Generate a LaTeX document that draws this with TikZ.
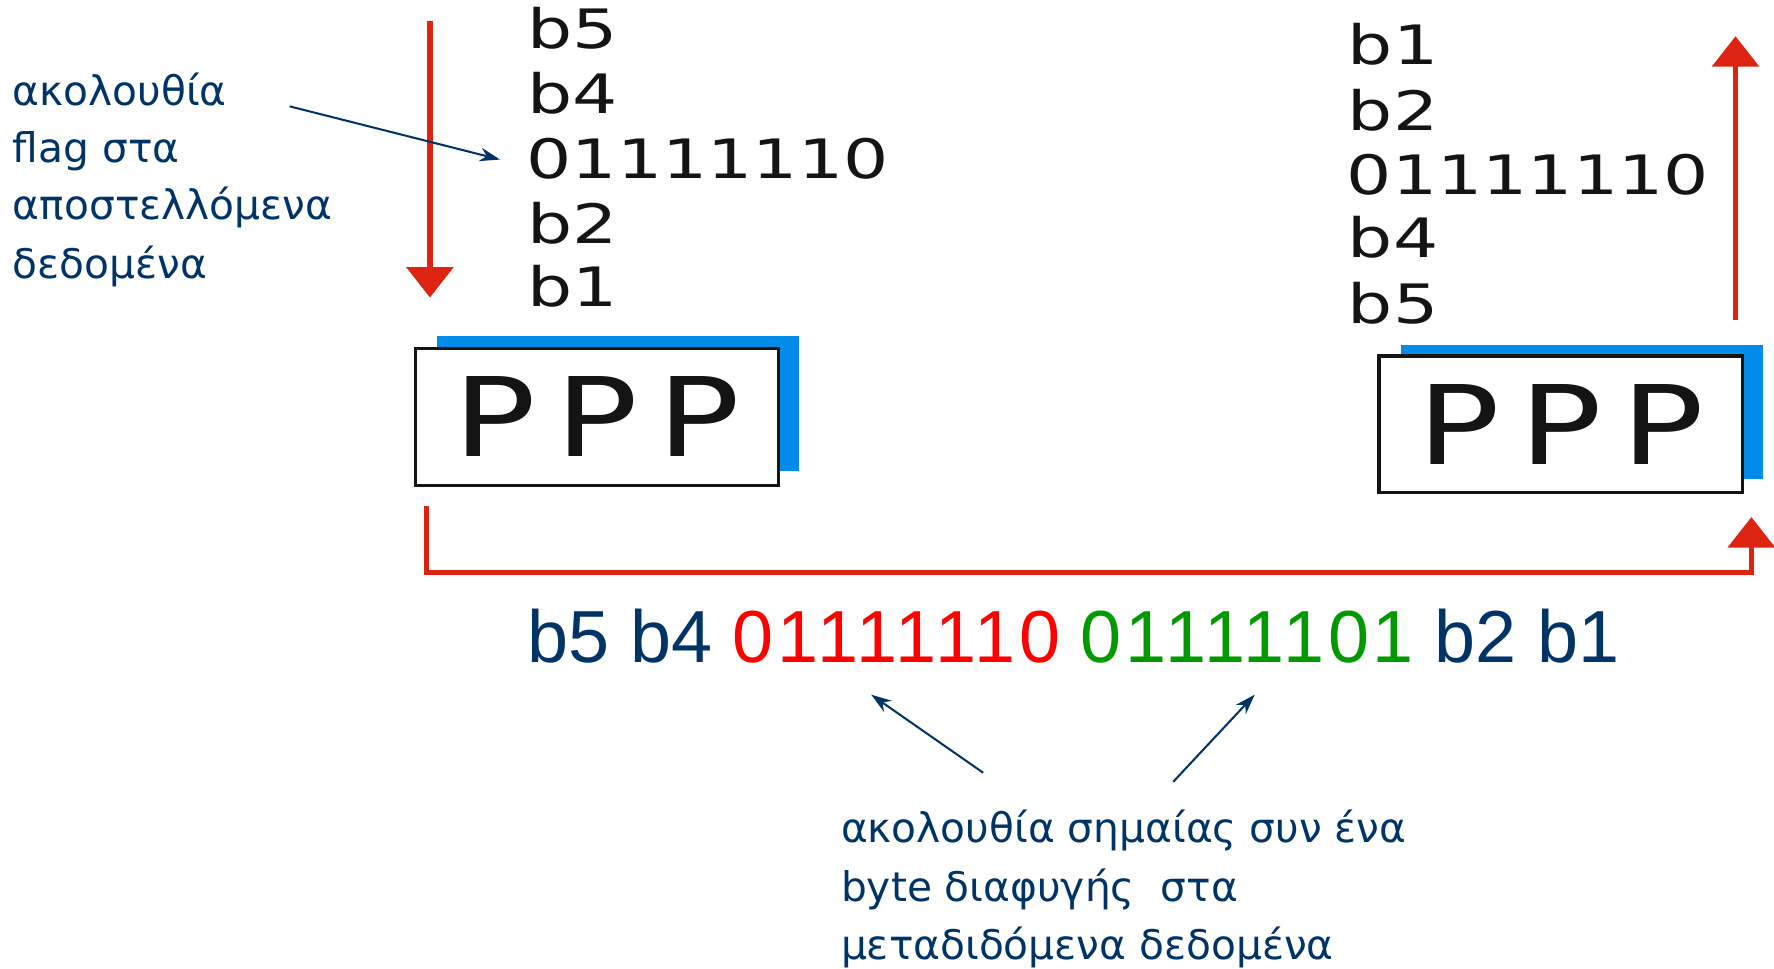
\documentclass[tikz,border=0pt]{standalone}
\usepackage{fontspec}
\setmainfont{DejaVu Sans}
\newfontfamily\grk{DejaVu Sans}
\newfontfamily\seqf{Liberation Sans}
\newfontfamily\seqd[LetterSpace=5.2]{Liberation Sans}
\usetikzlibrary{arrows.meta}
\definecolor{navy}{RGB}{0,51,102}
\definecolor{arrred}{RGB}{221,36,18}
\definecolor{shadowblue}{RGB}{0,140,232}
\definecolor{seqred}{RGB}{255,0,0}
\definecolor{seqgreen}{RGB}{0,153,0}
\begin{document}
\begin{tikzpicture}[x=0.5pt,y=-0.5pt,
  greek/.style={font=\grk\fontsize{18}{20}\selectfont, text=navy, anchor=base west, inner sep=0pt},
  stack/.style={font=\fontsize{24}{26}\selectfont, text=black!92, anchor=base west, inner sep=0pt},
  shadowbox/.style={fill=shadowblue, draw=none, minimum width=160pt, minimum height=59.5pt, inner sep=0pt},
  pppbox/.style={fill=white, draw=black!92, line width=1.5pt, minimum width=160.5pt, minimum height=60.5pt, inner sep=0pt,
    font=\fontsize{48.5}{50}\selectfont, text=black!92},
  redarrow/.style={draw=arrred, line width=2.5pt, line join=miter, -{Triangle[length=13.5pt,width=20.5pt]}},
  thinarrow/.style={draw=navy, line width=0.9pt, -{Stealth[length=9pt,width=6pt]}}
]
\useasboundingbox (0,0) rectangle (1568,856);

% left annotation
\node[greek] (l1) at (11,93) {ακολουθία};
\node[greek] (l2) at (11,144) {flag στα};
\node[greek] (l3) at (11,194) {αποστελλόμενα};
\node[greek] (l4) at (11,246) {δεδομένα};

% left stack
\node[stack] (sl5) at (466,43) {\scalebox{1.31}[1]{b5}};
\node[stack] (sl4) at (466,100) {\scalebox{1.31}[1]{b4}};
\node[stack] (slf) at (465,158) {\scalebox{1.31}[1]{01111110}};
\node[stack] (sl2) at (466,215) {\scalebox{1.31}[1]{b2}};
\node[stack] (sl1) at (466,271) {\scalebox{1.31}[1]{b1}};

% right stack
\node[stack] (sr1) at (1191,57) {\scalebox{1.31}[1]{b1}};
\node[stack] (sr2) at (1191,115) {\scalebox{1.31}[1]{b2}};
\node[stack] (srf) at (1190,172) {\scalebox{1.31}[1]{01111110}};
\node[stack] (sr4) at (1191,228) {\scalebox{1.31}[1]{b4}};
\node[stack] (sr5) at (1191,286) {\scalebox{1.31}[1]{b5}};

% PPP boxes
\node[shadowbox] (sh1) at (546.5,356.5) {};
\node[pppbox] (ppp1) at (527.5,368.5) {\scalebox{1.25}[1]{P\kern6.8ptP\kern6.8ptP}};
\node[shadowbox] (sh2) at (1398,364) {};
\node[pppbox] (ppp2) at (1379.5,375) {\scalebox{1.25}[1]{P\kern6.8ptP\kern6.8ptP}};

% red arrows
\coordinate (dtop) at (380,19);
\coordinate (dbot) at (380,263);
\draw[redarrow] (dtop) -- (dbot);
\coordinate (ubot) at (1534,283);
\coordinate (utop) at (1534,32);
\draw[redarrow] (ubot) -- (utop);
\coordinate (cstart) at (377,447);
\coordinate (ccorner) at (1548,506);
\coordinate (cend) at (1548,457);
\draw[redarrow] (cstart) |- (ccorner) -- (cend);

% left thin arrow
\coordinate (la) at (256,94);
\coordinate (lb) at (442,141);
\draw[thinarrow] (la) -- (lb);

% transmitted sequence
\node[anchor=base west, inner sep=0pt, font=\seqf\fontsize{32.6}{34}\selectfont] (seq) at (466,586)
  {\textcolor{navy}{b5 b4} \textcolor{seqred}{\seqd 01111110}\ \textcolor{seqgreen}{\seqd 01111101}\ \textcolor{navy}{b2 b1}};

% bottom arrows
\coordinate (b1s) at (869,683);
\coordinate (b1e) at (770,614);
\coordinate (b2s) at (1037,691);
\coordinate (b2e) at (1109,614);
\draw[thinarrow] (b1s) -- (b1e);
\draw[thinarrow] (b2s) -- (b2e);

% bottom annotation
\node[greek] (g1) at (743,745) {ακολουθία σημαίας συν ένα};
\node[greek] (g2) at (743,797) {byte διαφυγής\ \ στα};
\node[greek] (g3) at (743,848) {μεταδιδόμενα δεδομένα};
\end{tikzpicture}
\end{document}
